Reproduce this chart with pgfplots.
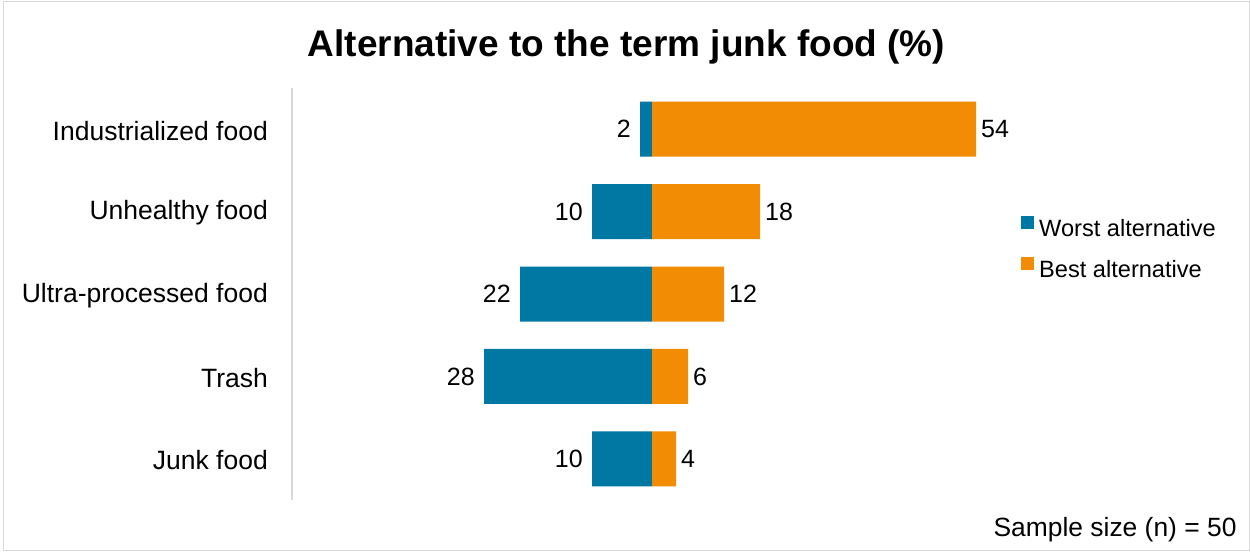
\documentclass[border=0pt]{standalone}
\usepackage{pgfplots}
\pgfplotsset{compat=1.18}
\usepackage{fontspec}
\setmainfont{Liberation Sans}
\definecolor{worst}{RGB}{0,120,164}
\definecolor{best}{RGB}{242,140,5}
\definecolor{framegray}{RGB}{217,217,217}
\begin{document}
\begin{tikzpicture}[x=1pt,y=1pt]
\path[use as bounding box] (0,0) rectangle (1250,552);
\draw[framegray, line width=1pt] (3.5,1.3) rectangle (1249.5,550.5);
\begin{axis}[
  at={(292pt,52pt)}, anchor=south west,
  scale only axis, width=720pt, height=412pt,
  xbar, bar width=55pt, bar shift=0pt,
  xmin=-60, xmax=60, ymin=-0.5, ymax=4.5,
  axis x line=none, axis y line*=left,
  y axis line style={draw=framegray, line width=1.5pt, -},
  ytick={0,1,2,3,4},
  yticklabels={Junk food, Trash, Ultra-processed food, Unhealthy food, Industrialized food},
  major tick length=0pt,
  /pgf/number format/assume math mode=true,
  yticklabel style={font=\fontsize{26.5pt}{30pt}\selectfont, inner sep=0pt, xshift=-24pt, yshift=-1.5pt},
  legend image code/.code={\fill[#1] (0pt,0pt) rectangle (13pt,13pt);},
  legend style={at={(1.0125,0.613)}, anchor=west, draw=none, fill=none, inner sep=0pt,
    font=\fontsize{23.6pt}{28pt}\selectfont, row sep=19pt, column sep=5pt,
    nodes={inner sep=0pt}},
  legend cell align=left,
]
\addplot[fill=worst, draw=none, point meta=explicit, nodes near coords,
  every node near coord/.append style={anchor=east, inner sep=9pt, text=black,
    font=\fontsize{25pt}{28pt}\selectfont}]
  coordinates {(-10,0) [10] (-28,1) [28] (-22,2) [22] (-10,3) [10] (-2,4) [2]};
\addlegendentry{Worst alternative}
\addplot[fill=best, draw=none, point meta=explicit, nodes near coords,
  every node near coord/.append style={anchor=west, inner sep=5pt, text=black,
    font=\fontsize{25pt}{28pt}\selectfont}]
  coordinates {(4,0) [4] (6,1) [6] (12,2) [12] (18,3) [18] (54,4) [54]};
\addlegendentry{Best alternative}
\end{axis}
\node[anchor=base, font=\bfseries\fontsize{37pt}{40pt}\selectfont] at (626.5,495) {Alternative to the term junk food (\%)};
\node[anchor=base east, font=\fontsize{26.4pt}{30pt}\selectfont] at (1240,15.3) {Sample size (n) = 50};
\end{tikzpicture}
\end{document}
